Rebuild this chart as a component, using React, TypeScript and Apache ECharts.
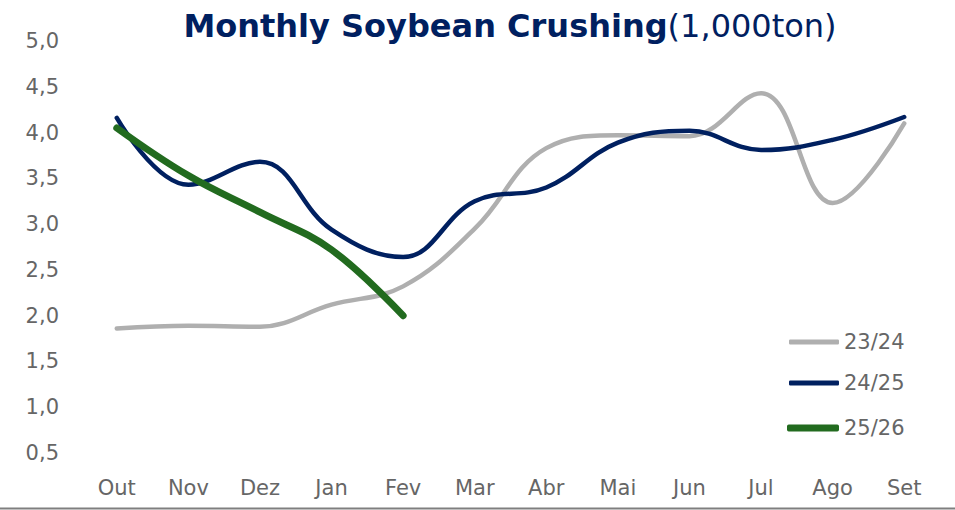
import React, { useEffect, useRef } from "react";
import * as echarts from "echarts";

const months = ["Out", "Nov", "Dez", "Jan", "Fev", "Mar", "Abr", "Mai", "Jun", "Jul", "Ago", "Set"];
const s2324 = [1.86, 1.89, 1.88, 2.12, 2.32, 2.95, 3.83, 3.97, 3.96, 4.43, 3.23, 4.1];
const s2425 = [4.16, 3.43, 3.68, 2.94, 2.64, 3.25, 3.4, 3.89, 4.02, 3.81, 3.92, 4.17];
const s2526 = [4.05, 3.53, 3.13, 2.72, 2.0];

const FONT = "DejaVu Sans";
const GREY = "#AFAFAF";
const NAVY = "#002060";
const GREEN = "#226B1F";
const TXT = "#666666";

export default function App() {
  const ref = useRef<HTMLDivElement>(null);
  useEffect(() => {
    document.body.style.margin = "0";
    const chart = echarts.init(ref.current!, null, { renderer: "svg" });
    const legendText = { fontFamily: FONT, fontSize: 21, lineHeight: 21, color: TXT };
    chart.setOption({
      animation: false,
      backgroundColor: "#ffffff",
      title: {
        text: "{b|Monthly Soybean Crushing}{n|(1,000ton)}",
        left: 505,
        textAlign: "center",
        top: 5,
        textStyle: {
          rich: {
            b: { fontFamily: FONT, fontWeight: "bold", fontSize: 32, color: NAVY },
            n: { fontFamily: FONT, fontWeight: "normal", fontSize: 32, color: NAVY },
          },
        },
      },
      legend: [
        {
          orient: "vertical",
          left: 784,
          top: 326.5,
          icon: "roundRect",
          itemWidth: 50,
          itemHeight: 5,
          itemGap: 20,
          textStyle: legendText,
          data: ["23/24", "24/25"],
        },
        {
          orient: "vertical",
          left: 782,
          top: 412.5,
          icon: "roundRect",
          itemWidth: 52,
          itemHeight: 7,
          textStyle: legendText,
          data: ["25/26"],
        },
      ],
      grid: { left: 81, right: 15, top: 41, bottom: 57 },
      xAxis: {
        type: "category",
        data: months,
        boundaryGap: true,
        axisLine: { show: false },
        axisTick: { show: false },
        splitLine: { show: false },
        axisLabel: { fontFamily: FONT, fontSize: 21, color: TXT, margin: 24 },
      },
      yAxis: {
        type: "value",
        min: 0.5,
        max: 5,
        interval: 0.5,
        axisLine: { show: false },
        axisTick: { show: false },
        splitLine: { show: false },
        axisLabel: {
          fontFamily: FONT,
          fontSize: 21,
          color: TXT,
          margin: 22,
          formatter: (v: number) => v.toFixed(1).replace(".", ","),
        },
      },
      series: [
        {
          name: "23/24",
          type: "line",
          data: s2324,
          smooth: 0.4,
          symbol: "none",
          lineStyle: { color: GREY, width: 4.5, cap: "round" },
          itemStyle: { color: GREY },
        },
        {
          name: "24/25",
          type: "line",
          data: s2425,
          smooth: 0.4,
          symbol: "none",
          lineStyle: { color: NAVY, width: 4.5, cap: "round" },
          itemStyle: { color: NAVY },
        },
        {
          name: "25/26",
          type: "line",
          data: s2526,
          smooth: 0.4,
          symbol: "none",
          lineStyle: { color: GREEN, width: 7, cap: "round" },
          itemStyle: { color: GREEN },
        },
      ],
      graphic: [
        {
          type: "line",
          shape: { x1: 0, y1: 508.5, x2: 955, y2: 508.5 },
          style: { stroke: "#7F7F7F", lineWidth: 2 },
        },
      ],
    });
    return () => chart.dispose();
  }, []);
  return <div ref={ref} style={{ width: 955, height: 510 }} />;
}
